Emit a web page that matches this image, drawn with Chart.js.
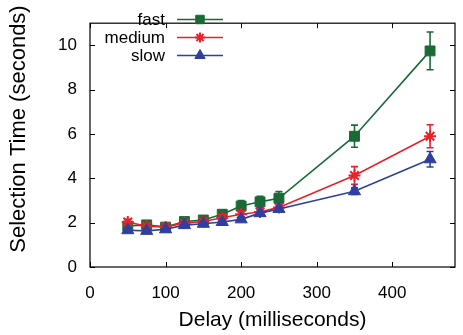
<!DOCTYPE html>
<html>
<head>
<meta charset="utf-8">
<title>Selection Time vs Delay</title>
<script src="https://cdn.jsdelivr.net/npm/chart.js"></script>
<style>
    html, body { margin: 0; padding: 0; background: #ffffff; }
    canvas { display: block; }
</style>
</head>
<body>
<canvas id="delayChart" width="463" height="335"></canvas>
<script>

const delays = [50, 75, 100, 125, 150, 175, 200, 225, 250, 350, 450];

const fastTimes   = [1.85, 1.90, 1.80, 2.05, 2.12, 2.38, 2.75, 2.94, 3.10, 5.90, 9.75];
const mediumTimes = [2.03, 1.84, 1.81, 1.98, 2.05, 2.22, 2.38, 2.48, 2.69, 4.13, 5.90];
const slowTimes   = [1.66, 1.63, 1.70, 1.89, 1.95, 2.03, 2.15, 2.43, 2.62, 3.42, 4.86];

const fastErrors   = [0.10, 0.08, 0.06, 0.10, 0.10, 0.18, 0.25, 0.25, 0.30, 0.50, 0.85];
const mediumErrors = [0.12, 0.08, 0.08, 0.08, 0.10, 0.12, 0.15, 0.12, 0.15, 0.40, 0.52];
const slowErrors   = [0.06, 0.06, 0.06, 0.08, 0.08, 0.08, 0.10, 0.10, 0.10, 0.15, 0.35];

const seriesNames = ["fast", "medium", "slow"];

const xTicks = [0, 100, 200, 300, 400];
const yTicks = [0, 2, 4, 6, 8, 10];

const xTitle = "Delay (milliseconds)";
const yTitle = "Selection Time (seconds)";

const green = "#1a6a35";
const red = "#e8212a";
const blue = "#2f3f9f";

const fontName = "'Liberation Sans', Arial, Helvetica, sans-serif";

function toPoints(values){
    return delays.map((d, i) => ({ x: d, y: values[i] }));
}

const errorSets = [fastErrors, mediumErrors, slowErrors];
const valueSets = [fastTimes, mediumTimes, slowTimes];

// error bars under each series, legend + frame on top
const gnuplotLook = {

    id: "gnuplotLook",

    beforeDatasetDraw(chart, args){

        const ctx = chart.ctx;
        const xs = chart.scales.x;
        const ys = chart.scales.y;
        const ds = chart.data.datasets[args.index];
        const values = valueSets[args.index];
        const errs = errorSets[args.index];

        ctx.save();
        ctx.strokeStyle = ds.borderColor;
        ctx.lineWidth = 1.6;

        for(let i = 0; i < delays.length; i++){

            const x = xs.getPixelForValue(delays[i]);
            const top = ys.getPixelForValue(values[i] + errs[i]);
            const bottom = ys.getPixelForValue(values[i] - errs[i]);

            ctx.beginPath();
            ctx.moveTo(x, top);
            ctx.lineTo(x, bottom);
            ctx.moveTo(x - 3.5, top);
            ctx.lineTo(x + 3.5, top);
            ctx.moveTo(x - 3.5, bottom);
            ctx.lineTo(x + 3.5, bottom);
            ctx.stroke();

        }

        ctx.restore();

    },

    afterDraw(chart){

        const ctx = chart.ctx;
        const area = chart.chartArea;
        const xs = chart.scales.x;
        const ys = chart.scales.y;

        ctx.save();

        // frame
        ctx.strokeStyle = "#000000";
        ctx.lineWidth = 1.2;
        ctx.strokeRect(area.left, area.top, area.right - area.left, area.bottom - area.top);

        // inward ticks, mirrored
        ctx.beginPath();
        xTicks.forEach(v => {
            const x = Math.round(xs.getPixelForValue(v)) + 0.5;
            ctx.moveTo(x, area.bottom);
            ctx.lineTo(x, area.bottom - 5);
            ctx.moveTo(x, area.top);
            ctx.lineTo(x, area.top + 5);
        });
        yTicks.forEach(v => {
            const y = Math.round(ys.getPixelForValue(v)) + 0.5;
            ctx.moveTo(area.left, y);
            ctx.lineTo(area.left + 5, y);
            ctx.moveTo(area.right, y);
            ctx.lineTo(area.right - 5, y);
        });
        ctx.lineWidth = 1;
        ctx.stroke();
        ctx.restore();

        // y title
        ctx.save();
        ctx.fillStyle = "#000000";
        ctx.font = "22px " + fontName;
        ctx.textAlign = "center";
        ctx.textBaseline = "alphabetic";
        ctx.translate(24.5, 129);
        ctx.rotate(-Math.PI / 2);
        ctx.fillText(yTitle, 0, 0);
        ctx.restore();

        // legend
        const textRight = 165;
        const lineStart = 177;
        const lineEnd = 223;
        const rows = [19.5, 37.5, 55.5];

        chart.data.datasets.forEach((ds, i) => {

            const y = rows[i];

            ctx.save();
            ctx.font = "17px " + fontName;
            ctx.textAlign = "right";
            ctx.textBaseline = "alphabetic";
            ctx.fillStyle = "#000000";
            ctx.fillText(seriesNames[i], textRight, y + 5.5);

            ctx.strokeStyle = ds.borderColor;
            ctx.lineWidth = 1.6;
            ctx.beginPath();
            ctx.moveTo(lineStart, y);
            ctx.lineTo(lineEnd, y);
            ctx.stroke();

            ctx.fillStyle = ds.borderColor;
            ctx.lineWidth = ds.pointBorderWidth;
            ctx.beginPath();
            Chart.helpers.drawPoint(ctx, {
                pointStyle: ds.pointStyle,
                radius: ds.pointRadius - 1,
                borderWidth: ds.pointBorderWidth,
                rotation: 0
            }, (lineStart + lineEnd) / 2, y);
            ctx.restore();

        });

    }

};

const ctx =
document.getElementById(
    "delayChart"
);

const delayChart =
new Chart(ctx, {

    type: "line",

    data: {

        datasets: [
            {
                label: seriesNames[0],
                data: toPoints(fastTimes),
                borderColor: green,
                backgroundColor: green,
                pointBackgroundColor: green,
                pointBorderColor: green,
                pointStyle: "rect",
                pointRadius: 7,
                pointBorderWidth: 1,
                borderWidth: 1.6,
                order: 3
            },
            {
                label: seriesNames[1],
                data: toPoints(mediumTimes),
                borderColor: red,
                backgroundColor: red,
                pointBackgroundColor: red,
                pointBorderColor: red,
                pointStyle: "star",
                pointRadius: 6,
                pointBorderWidth: 2,
                borderWidth: 1.6,
                order: 2
            },
            {
                label: seriesNames[2],
                data: toPoints(slowTimes),
                borderColor: blue,
                backgroundColor: blue,
                pointBackgroundColor: blue,
                pointBorderColor: blue,
                pointStyle: "triangle",
                pointRadius: 7,
                pointBorderWidth: 1,
                borderWidth: 1.6,
                order: 1
            }
        ]

    },

    options: {

        responsive: false,
        animation: false,
        devicePixelRatio: 1,

        layout: {
            padding: { top: 7, right: 1, left: 0, bottom: 0 }
        },

        plugins: {
            legend: { display: false },
            tooltip: { enabled: false }
        },

        elements: {
            line: { tension: 0 }
        },

        scales: {

            x: {
                type: "linear",
                min: 0,
                max: 483,
                grid: { display: false, drawTicks: false },
                border: { display: false },
                afterBuildTicks: scale => {
                    scale.ticks = xTicks.map(v => ({ value: v }));
                },
                afterFit: scale => {
                    scale.height = 68;
                },
                ticks: {
                    padding: 16,
                    color: "#000000",
                    font: { family: fontName, size: 17 }
                },
                title: {
                    display: true,
                    text: xTitle,
                    color: "#000000",
                    padding: { top: 0, bottom: 2 },
                    font: { family: fontName, size: 21 }
                }
            },

            y: {
                type: "linear",
                min: 0,
                max: 11,
                grid: { display: false, drawTicks: false },
                border: { display: false },
                afterBuildTicks: scale => {
                    scale.ticks = yTicks.map(v => ({ value: v }));
                },
                afterFit: scale => {
                    scale.width = 90;
                },
                ticks: {
                    padding: 13,
                    color: "#000000",
                    font: { family: fontName, size: 17 }
                }
            }

        }

    },

    plugins: [gnuplotLook]

});

</script>
</body>
</html>
